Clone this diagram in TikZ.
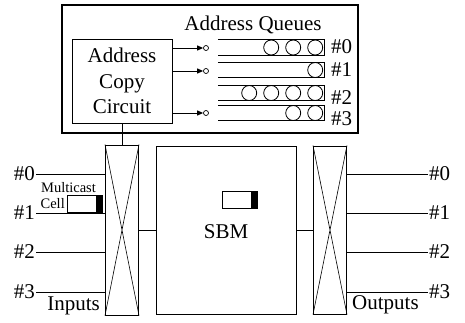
\documentclass[tikz,border=0pt]{standalone}
\usepackage{fontspec}
\setmainfont{Liberation Serif}
\newfontfamily\timesfont{Liberation Serif}
\usetikzlibrary{arrows.meta,positioning,calc}

\begin{document}
\begin{tikzpicture}[x=1pt, y=-1pt,
      every node/.style={font=\timesfont\fontsize{21}{25.5}\selectfont, inner sep=0pt},
      box/.style={draw, line width=1pt},
      switchbox/.style={draw, line width=1pt, minimum width=33pt, minimum height=170pt},
      queue/.style={minimum width=106pt, minimum height=15pt},
      entry/.style={draw, circle, line width=0.8pt, minimum size=15pt},
      port/.style={draw, circle, line width=0.7pt, minimum size=5pt},
      cell/.style={draw, line width=1pt, minimum width=35pt, minimum height=17pt,
        path picture={\fill (path picture bounding box.north east) rectangle ([xshift=-6.5pt]path picture bounding box.south east);}},
      smalltext/.style={font=\timesfont\fontsize{14.5}{16}\selectfont},
      wire/.style={line width=1pt},
      arrowstyle/.style={-{Triangle[length=6pt,width=5pt]}, line width=1pt}
    ]
    \useasboundingbox (0,0) rectangle (465,322);

    \node[box, line width=1.2pt, minimum width=296pt, minimum height=128pt] (queuebox) at (210,69) {};
    \node[box, minimum width=100pt, minimum height=84pt, align=center] (copy) at (122,81) {Address\\Copy\\Circuit};
    \node (title) at (253,25) {Address Queues};

    \node[queue] (q0) at (271,47.5) {};
    \node[queue] (q1) at (271,70) {};
    \node[queue] (q2) at (271,93) {};
    \node[queue] (q3) at (271,113) {};
    \foreach \q in {q0,q1,q2,q3}
      \draw[wire] (\q.north west) -- (\q.north east) -- (\q.south east) -- (\q.south west);
    \foreach \q/\n in {q0/3,q1/1,q2/4,q3/2}
      \foreach \k in {1,...,\n}
        \node[entry] (\q-\k) at ([xshift={-9-22*(\k-1)}]\q.east) {};
    \node[anchor=west] (qn0) at (331,47) {\#0};
    \node[anchor=west] (qn1) at (331,70) {\#1};
    \node[anchor=west] (qn2) at (331,98) {\#2};
    \node[anchor=west] (qn3) at (331,119) {\#3};

    \node[port] (p0) at (206,48) {};
    \node[port] (p1) at (206,71) {};
    \node[port] (p3) at (206,113) {};
    \draw[arrowstyle] (copy.east |- p0) -- (p0);
    \draw[arrowstyle] (copy.east |- p1) -- (p1);
    \draw[arrowstyle] (copy.east |- p3) -- (p3);

    \node[switchbox] (inswitch) at (122,230) {};
    \node[box, minimum width=140pt, minimum height=168pt] (sbm) at (226,230) {};
    \node[switchbox, minimum height=168pt] (outswitch) at (330,230) {};
    \draw[line width=0.6pt] (inswitch.north west) -- (inswitch.south east) (inswitch.north east) -- (inswitch.south west);
    \draw[line width=0.6pt] (outswitch.north west) -- (outswitch.south east) (outswitch.north east) -- (outswitch.south west);
    \node (sbmtext) at (226,232) {SBM};
    \node[cell] (sbmcell) at (240,200) {};
    \node[cell] (mcell) at (84.5,204) {};
    \node[smalltext] (mtext) at (68.5,188) {Multicast};
    \node[smalltext, left=1.5pt of mcell] (celltext) {Cell};
    \node[anchor=south east] (inputs) at ([xshift=-5pt]inswitch.south west) {Inputs};
    \node[anchor=south west] (outputs) at ([xshift=5pt]outswitch.south east) {Outputs};

    \coordinate (in0) at (36,174);
    \coordinate (in1) at (36,213);
    \coordinate (in2) at (36,252);
    \coordinate (in3) at (36,292);
    \coordinate (out0) at (428,174);
    \coordinate (out1) at (428,213);
    \coordinate (out2) at (428,252);
    \coordinate (out3) at (428,292);
    \foreach \i in {0,1,2,3} {
      \draw[wire] (in\i) -- (in\i -| inswitch.west);
      \draw[wire] (outswitch.east |- out\i) -- (out\i);
      \node[anchor=east, inner sep=1pt] (inlabel\i) at (in\i) {\#\i};
      \node[anchor=west, inner sep=1pt] (outlabel\i) at (out\i) {\#\i};
    }

    \draw[wire] (copy) -- (inswitch);
    \draw[wire] (inswitch) -- (sbm);
    \draw[wire] (sbm) -- (outswitch);
  \end{tikzpicture}
\end{document}
